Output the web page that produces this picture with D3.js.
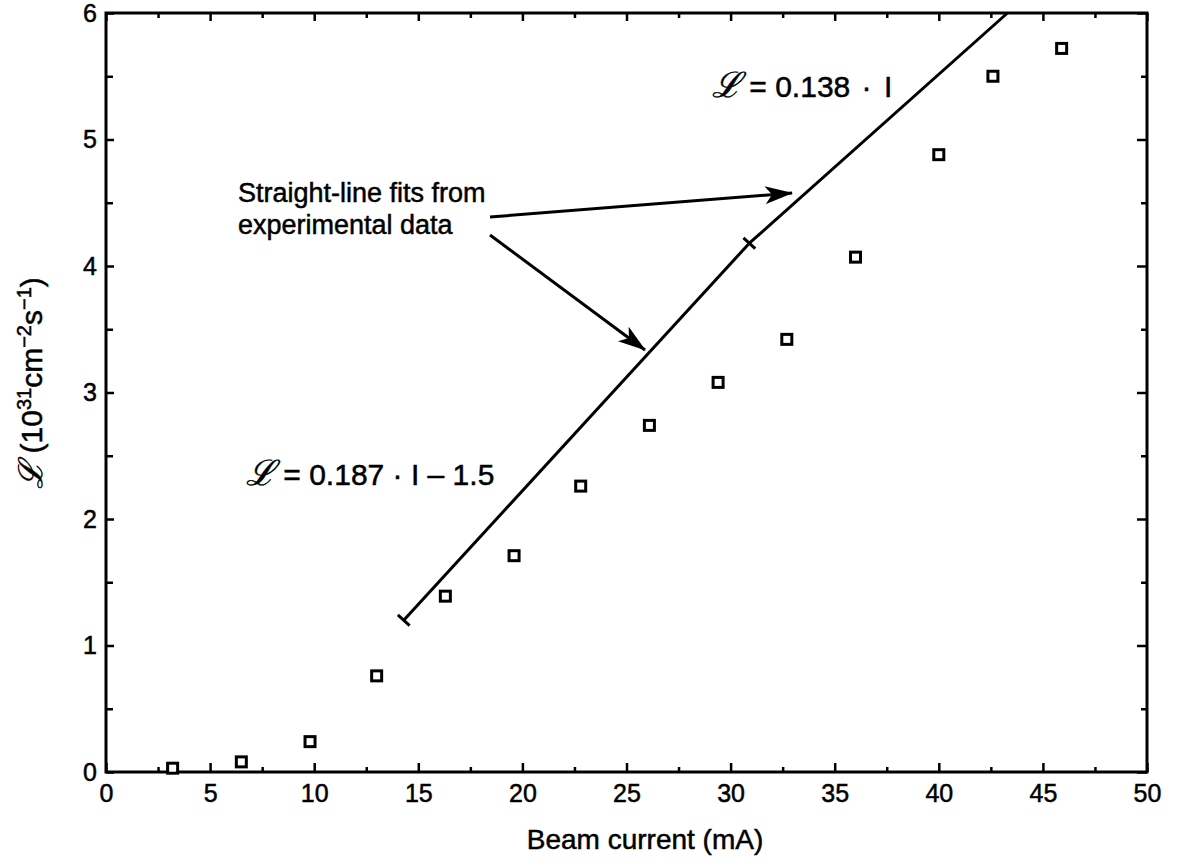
<!DOCTYPE html>
<html><head><meta charset="utf-8">
<script src="https://cdn.jsdelivr.net/npm/d3@7"></script>
<style>
body{margin:0;background:#fff;}
text{font-family:"Liberation Sans",Arial,Helvetica,sans-serif;fill:#000;stroke:#000;stroke-width:0.5px;}
</style></head>
<body><svg id="c" width="1177" height="863"></svg>
<script>
// ---- data ----
const beamCurrent = [3.2, 6.5, 9.8, 13.0, 16.3, 19.6, 22.8, 26.1, 29.4, 32.7, 36.0, 40.0, 42.6, 45.9];
const luminosity  = [0.03, 0.08, 0.24, 0.76, 1.39, 1.71, 2.26, 2.74, 3.08, 3.42, 4.07, 4.88, 5.50, 5.72];
const fitLowI  = [14.3, 30.9];
const fitLowL  = [1.20, 4.18];
const fitHighI = [30.9, 43.3];
const fitHighL = [4.18, 6.0];
const xMajorTicks = [0, 5, 10, 15, 20, 25, 30, 35, 40, 45, 50];
const xMinorTicks = [2.5, 7.5, 12.5, 17.5, 22.5, 27.5, 32.5, 37.5, 42.5, 47.5];
const yMajorTicks = [0, 1, 2, 3, 4, 5, 6];
const yMinorTicks = [0.5, 1.5, 2.5, 3.5, 4.5, 5.5];

const W = 1177, H = 863;
const m = {left:106, right:30, top:13, bottom:91};
const svg = d3.select("#c");
const x = d3.scaleLinear().domain([0,50]).range([m.left, W-m.right]);
const y = d3.scaleLinear().domain([0,6]).range([H-m.bottom, m.top]);

function drawAxis(gen, tr){
  const g = svg.append("g").attr("transform", tr).call(gen);
  g.select(".domain").remove();
  g.selectAll(".tick line").attr("stroke","#000").attr("stroke-width",2.5);
  return g;
}
// bottom
const gxb = drawAxis(d3.axisBottom(x).tickValues(xMajorTicks).tickSizeInner(-9).tickSizeOuter(0).tickPadding(12).tickFormat(d3.format("d")), `translate(0,${y(0)})`);
gxb.selectAll("text").attr("font-size",25).attr("font-family","Liberation Sans, Arial, sans-serif");
drawAxis(d3.axisBottom(x).tickValues(xMinorTicks).tickSizeInner(-5).tickSizeOuter(0).tickFormat(""), `translate(0,${y(0)})`);
// top
drawAxis(d3.axisTop(x).tickValues(xMajorTicks).tickSizeInner(-8).tickSizeOuter(0).tickFormat(""), `translate(0,${y(6)})`);
drawAxis(d3.axisTop(x).tickValues(xMinorTicks).tickSizeInner(-5).tickSizeOuter(0).tickFormat(""), `translate(0,${y(6)})`);
// left
const gyl = drawAxis(d3.axisLeft(y).tickValues(yMajorTicks).tickSizeInner(-8).tickSizeOuter(0).tickPadding(9).tickFormat(d3.format("d")), `translate(${x(0)},0)`);
gyl.selectAll("text").attr("font-size",25).attr("font-family","Liberation Sans, Arial, sans-serif");
drawAxis(d3.axisLeft(y).tickValues(yMinorTicks).tickSizeInner(-7).tickSizeOuter(0).tickFormat(""), `translate(${x(0)},0)`);
// right
drawAxis(d3.axisRight(y).tickValues(yMajorTicks).tickSizeInner(-10).tickSizeOuter(0).tickFormat(""), `translate(${x(50)},0)`);
drawAxis(d3.axisRight(y).tickValues(yMinorTicks).tickSizeInner(-6).tickSizeOuter(0).tickFormat(""), `translate(${x(50)},0)`);

// frame
svg.append("rect").attr("x",x(0)).attr("y",y(6)).attr("width",x(50)-x(0)).attr("height",y(0)-y(6))
  .attr("fill","none").attr("stroke","#000").attr("stroke-width",3);

// fit lines
const line = d3.line().x(d=>x(d[0])).y(d=>y(d[1]));
const lowPts = fitLowI.map((v,i)=>[v,fitLowL[i]]);
const highPts = fitHighI.map((v,i)=>[v,fitHighL[i]]);
svg.append("path").attr("d",line(lowPts)).attr("fill","none").attr("stroke","#000").attr("stroke-width",3);
svg.append("path").attr("d",line(highPts)).attr("fill","none").attr("stroke","#000").attr("stroke-width",3);
// end ticks (perpendicular)
function perpTick(p, dir){
  const px = x(p[0]), py = y(p[1]);
  const dx = x(dir[1][0])-x(dir[0][0]), dy = y(dir[1][1])-y(dir[0][1]);
  const len = Math.hypot(dx,dy), nx = -dy/len, ny = dx/len, h = 8;
  svg.append("line").attr("x1",px-nx*h).attr("y1",py-ny*h).attr("x2",px+nx*h).attr("y2",py+ny*h)
    .attr("stroke","#000").attr("stroke-width",3);
}
perpTick(lowPts[0], lowPts);
perpTick(lowPts[1], lowPts);

// data squares
svg.append("g").selectAll("rect").data(beamCurrent.map((v,i)=>[v,luminosity[i]])).join("rect")
  .attr("x",d=>x(d[0])-5).attr("y",d=>y(d[1])-5).attr("width",10).attr("height",10)
  .attr("fill","#fff").attr("stroke","#000").attr("stroke-width",3);

// arrows
const defs = svg.append("defs");
defs.append("marker").attr("id","ah").attr("viewBox","0 0 28 18").attr("refX",27).attr("refY",9)
  .attr("markerWidth",28).attr("markerHeight",18).attr("markerUnits","userSpaceOnUse").attr("orient","auto")
  .append("path").attr("d","M0,0 L28,9 L0,18 L7,9 Z").attr("fill","#000");
svg.append("line").attr("x1",490).attr("y1",217).attr("x2",792).attr("y2",193)
  .attr("stroke","#000").attr("stroke-width",3).attr("marker-end","url(#ah)");
svg.append("line").attr("x1",490).attr("y1",235).attr("x2",645).attr("y2",350)
  .attr("stroke","#000").attr("stroke-width",3).attr("marker-end","url(#ah)");

// annotation texts
svg.append("text").attr("x",238).attr("y",202).attr("font-size",27).text("Straight-line fits from");
svg.append("text").attr("x",238).attr("y",234).attr("font-size",27).text("experimental data");
svg.append("text").attr("x",712).attr("y",97).attr("font-size",30)
  .html('<tspan font-family="DejaVu Serif" font-style="italic" font-size="35">ℒ</tspan> = 0.138 <tspan dx="3">·</tspan><tspan dx="4"> I</tspan>');
svg.append("text").attr("x",246).attr("y",485).attr("font-size",30)
  .html('<tspan font-family="DejaVu Serif" font-style="italic" font-size="35">ℒ</tspan> = 0.187 · I – 1.5');

// axis titles
svg.append("text").attr("x",645).attr("y",849).attr("text-anchor","middle").attr("font-size",28).text("Beam current (mA)");
svg.append("text").attr("transform","translate(42,383) rotate(-90)").attr("text-anchor","middle").attr("font-size",30)
  .html('<tspan font-family="DejaVu Serif" font-style="italic" font-size="33">ℒ</tspan> (10<tspan baseline-shift="super" font-size="20">31</tspan>cm<tspan baseline-shift="super" font-size="20">−2</tspan>s<tspan baseline-shift="super" font-size="20">−1</tspan>)');
</script></body></html>
